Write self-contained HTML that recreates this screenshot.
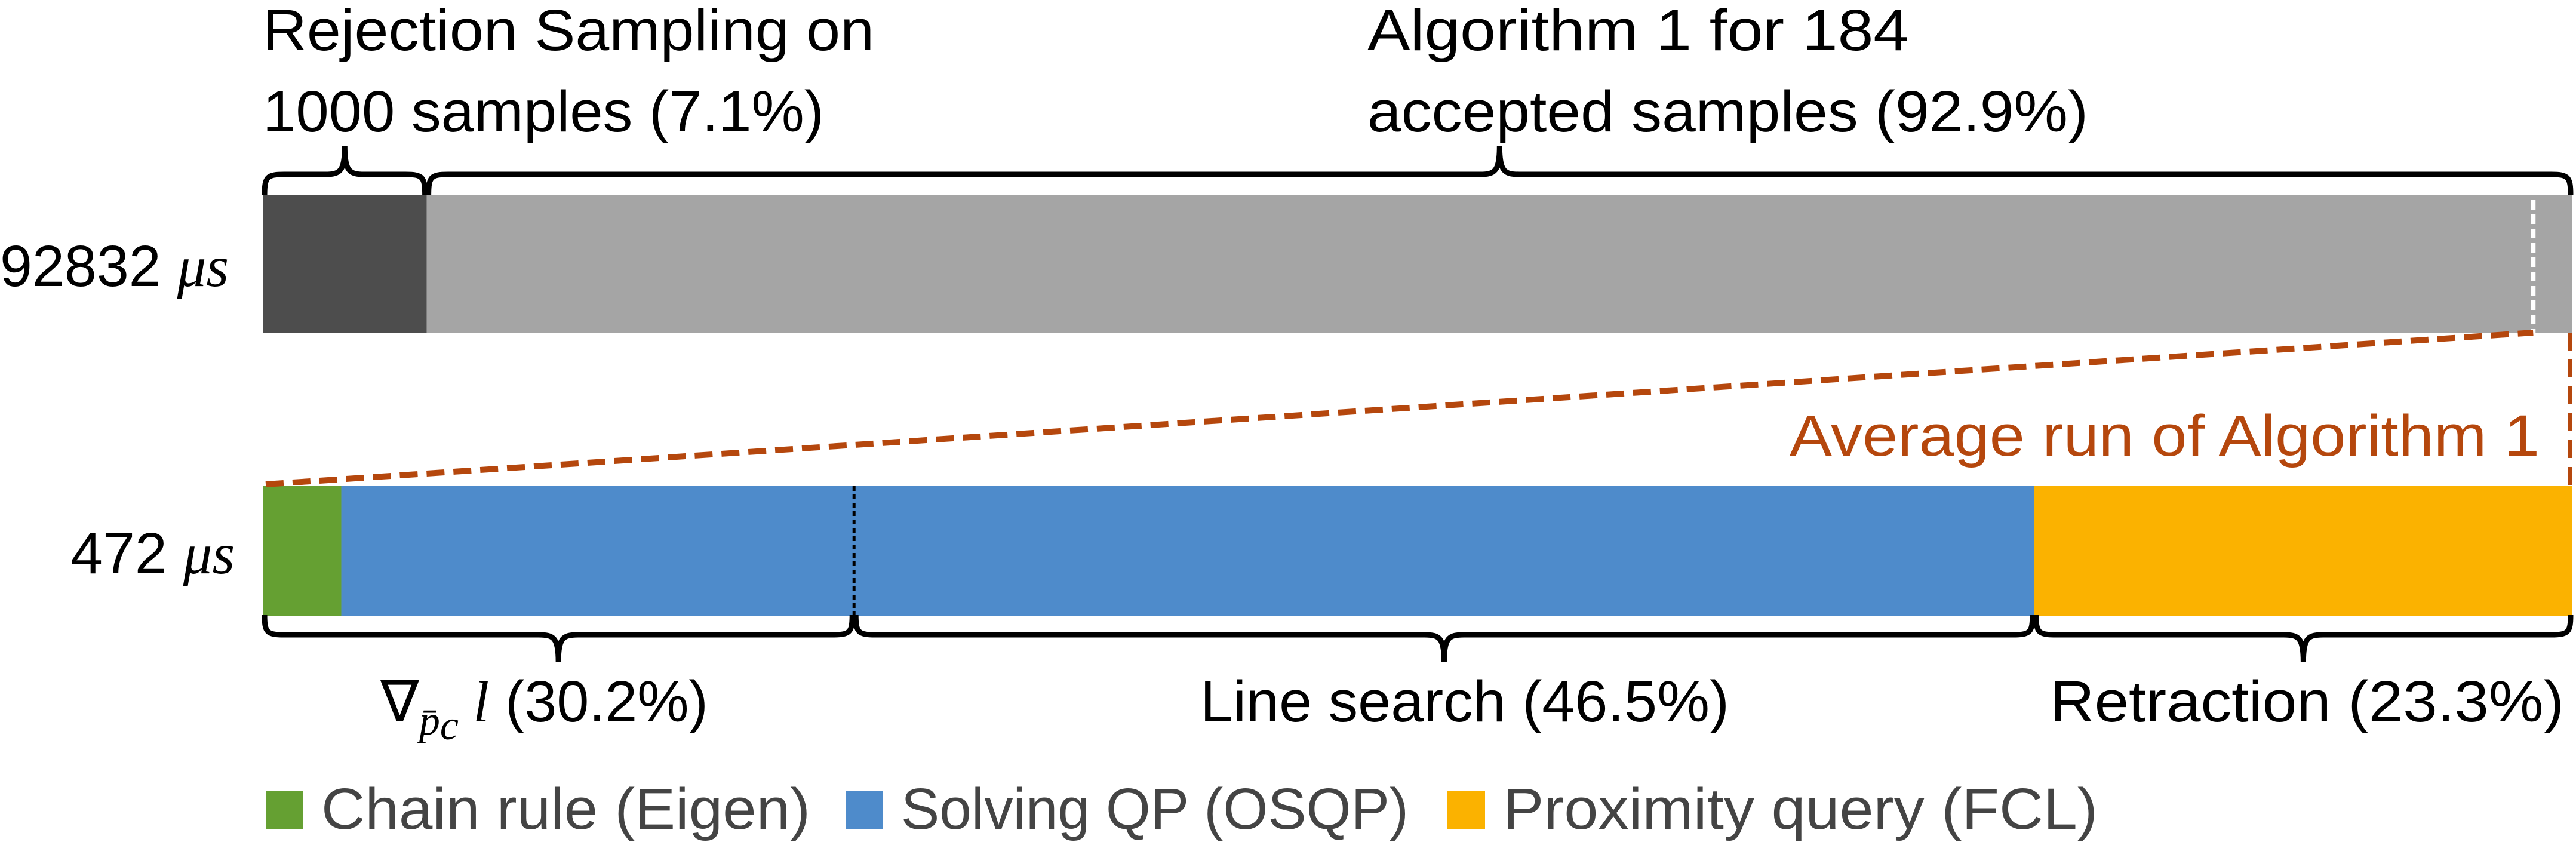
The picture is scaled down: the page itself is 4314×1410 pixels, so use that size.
<!DOCTYPE html>
<html><head><meta charset="utf-8"><style>
html,body{margin:0;padding:0;background:#fff;}
svg{display:block;}
text{font-family:"Liberation Sans",sans-serif;}
</style></head><body>
<svg id="chart" width="4314" height="1410" viewBox="0 0 4314 1410" xmlns="http://www.w3.org/2000/svg"></svg>
<script>
// ---- data ----
const topCategories = ["Rejection Sampling", "Algorithm 1"];
const topShares = [7.1, 92.9];
const topColors = ["#4d4d4d", "#a5a5a5"];
const bottomCategories = ["Chain rule (Eigen)", "Solving QP (OSQP)", "Proximity query (FCL)"];
const bottomShares = [3.4, 73.3, 23.3];
const bottomColors = ["#65a032", "#4e8bcb", "#fbb200"];
const phaseLabels = ["(30.2%)", "Line search (46.5%)", "Retraction (23.3%)"];
const phaseShares = [25.6, 51.1, 23.3];
const rowLabels = ["92832", "472"];
const zoomMarkerShare = 98.3;

// ---- geometry / axis ----
const X0 = 440, X1 = 4308;
const xs = p => X0 + (X1 - X0) * p / 100;
const NS = "http://www.w3.org/2000/svg";
const svg = document.getElementById('chart');
function mk(tag, attrs, parent) {
  const e = document.createElementNS(NS, tag);
  for (const k in attrs) e.setAttribute(k, attrs[k]);
  (parent || svg).appendChild(e);
  return e;
}
function txt(str, x, y, size, fill, len, anchor) {
  const t = mk('text', {x: x, y: y, 'font-size': size, fill: fill});
  if (len) { t.setAttribute('textLength', len); t.setAttribute('lengthAdjust', 'spacingAndGlyphs'); }
  if (anchor) t.setAttribute('text-anchor', anchor);
  t.textContent = str;
  return t;
}
// brace: from xa to xb, base y (at bar), line y, tip y
function brace(xa, xb, yb, yl, yt, name) {
  const xm = xa + (xb - xa) * 0.5;
  const dir = yl < yb ? -1 : 1;
  const r = 22;
  const d = `M${xa},${yb} C${xa},${yl - dir*4} ${xa+4},${yl} ${xa+r*1.5},${yl} L${xm-r*1.5},${yl} C${xm-8},${yl} ${xm},${yl+dir*5} ${xm},${yt} C${xm},${yl+dir*5} ${xm+8},${yl} ${xm+r*1.5},${yl} L${xb-r*1.5},${yl} C${xb-4},${yl} ${xb},${yl - dir*4} ${xb},${yb}`;
  const p = mk('path', {d: d, fill: 'none', stroke: '#000', 'stroke-width': 9});
  
  
  return xm;
}

// ---- top bar ----
let acc = 0;
const TY0 = 327, TY1 = 558;
topShares.forEach((v, i) => {
  const r = mk('rect', {x: xs(acc), y: TY0, width: xs(acc + v) - xs(acc), height: TY1 - TY0, fill: topColors[i]});
  
  
  const a = xs(acc), b = xs(acc + v);
  brace(a + 3, b - 3, TY0, 292, 245, 'top-brace-' + i);
  acc += v;
});
// white dotted marker
const mx = xs(zoomMarkerShare);
const dm = mk('line', {x1: mx, y1: TY0 + 8, x2: mx, y2: TY1, stroke: '#fff', 'stroke-width': 8, 'stroke-dasharray': '16 8'});



// ---- bottom bar ----
const BY0 = 814, BY1 = 1032;
acc = 0;
bottomShares.forEach((v, i) => {
  const r = mk('rect', {x: xs(acc), y: BY0, width: xs(acc + v) - xs(acc), height: BY1 - BY0, fill: bottomColors[i]});
  
  
  acc += v;
});
// black dotted divider
const dvx = xs(phaseShares[0]);
const dv = mk('line', {x1: dvx, y1: BY0, x2: dvx, y2: BY1, stroke: '#000', 'stroke-width': 5, 'stroke-dasharray': '8 6'});



// zoom dashed lines
const z1 = mk('line', {x1: X0 + 5, y1: 811, x2: mx, y2: 557, stroke: '#b5470d', 'stroke-width': 10, 'stroke-dasharray': '30 15'});


const z2 = mk('line', {x1: 4304, y1: 557, x2: 4304, y2: 818, stroke: '#b5470d', 'stroke-width': 8, 'stroke-dasharray': '30 15'});



// bottom braces
acc = 0;
const tips = [];
phaseShares.forEach((v, i) => {
  tips.push(brace(xs(acc) + 3, xs(acc + v) - 3, 1030, 1063, 1108, 'bottom-brace-' + i));
  acc += v;
});

// ---- text ----
let t;
t = txt('Rejection Sampling on', 440, 84, 97, '#000', 1024);  
t = txt('1000 samples (7.1%)', 440, 220, 97, '#000', 940);  
t = txt('Algorithm 1 for 184', 2290, 84, 97, '#000', 907);  
t = txt('accepted samples (92.9%)', 2290, 220, 97, '#000', 1207);  

t = mk('text', {x: 0, y: 479, 'font-size': 97, fill: '#000'});
 
t.innerHTML = rowLabels[0] + ' <tspan font-family="Liberation Serif" font-style="italic">μs</tspan>';
t = mk('text', {x: 118, y: 960, 'font-size': 97, fill: '#000'});
 
t.innerHTML = rowLabels[1] + ' <tspan font-family="Liberation Serif" font-style="italic">μs</tspan>';

t = txt('Average run of Algorithm 1', 2997, 763, 97, '#b5470d', 1256);  

// phase labels
t = mk('text', {x: 637, y: 1208, 'font-size': 97, fill: '#000'});
 
t.innerHTML = '∇<tspan font-family="Liberation Serif" font-style="italic" font-size="70" dy="22">p̄</tspan><tspan font-family="Liberation Serif" font-style="italic" font-size="70" dy="8">c</tspan><tspan font-family="Liberation Serif" font-style="italic" dy="-30"> l</tspan> ' + phaseLabels[0];
t = txt(phaseLabels[1], 2010, 1208, 97, '#000', 886);  
t = txt(phaseLabels[2], 3433, 1208, 97, '#000', 861);  

// legend
const legX = [445, 1416, 2424];
const legLen = [819, 850, 996];
bottomCategories.forEach((c, i) => {
  const r = mk('rect', {x: legX[i], y: 1325, width: 63, height: 63, fill: bottomColors[i]});
  
  
  const lt = txt(c, legX[i] + 93, 1388, 97, '#444', legLen[i]);
  
  
});
</script>
</body></html>
